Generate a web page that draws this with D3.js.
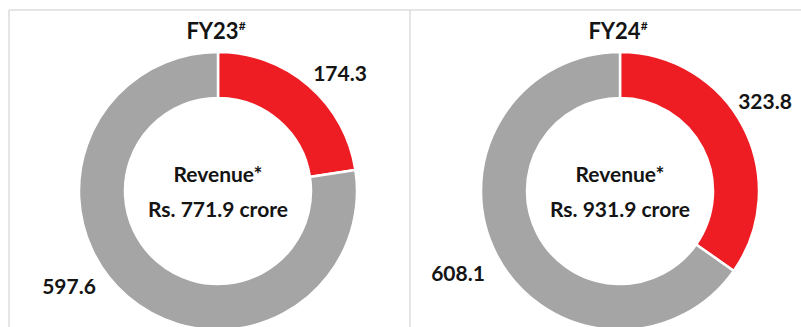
<!DOCTYPE html>
<html>
<head>
<meta charset="utf-8">
<script src="https://cdn.jsdelivr.net/npm/d3@7"></script>
<style>
  body { margin: 0; background: #fff; }
  svg { display: block; font-family: Lato, "Open Sans", sans-serif; font-weight: bold; }
</style>
</head>
<body>
<div class="content"></div>
<script>
const w = 801;
const h = 327;

// data (Rs. crore)
const years = ['FY23', 'FY24'];
const segments = ['red', 'grey'];
const redValues = [174.3, 323.8];
const greyValues = [597.6, 608.1];
const totals = ['771.9', '931.9'];

const colors = d3.scaleOrdinal()
	.domain(segments)
	.range(['#ee1d24', '#a5a5a5']);

const svg = d3.select('.content').append('svg')
	.attr('width', w)
	.attr('height', h);

// panel frame lines
const frame = svg.append('g')
	.attr('stroke', '#dcdcdc')
	.attr('stroke-width', 1.5);
frame.append('line').attr('x1', 9).attr('x2', w).attr('y1', 10).attr('y2', 10);
frame.append('line').attr('x1', 9).attr('x2', 9).attr('y1', 10).attr('y2', h);
frame.append('line').attr('x1', 410).attr('x2', 410).attr('y1', 10).attr('y2', h);

const panelX = d3.scaleOrdinal()
	.domain(years)
	.range([218, 620]);

const cy = 191;
const outerR = 139;
const innerR = 93;

const pie = d3.pie()
	.sort(null)
	.value((d) => d.value);

const arc = d3.arc()
	.innerRadius(innerR)
	.outerRadius(outerR);

// label placement per chart: [dx, dy] relative to centre
const labelPos = [
	{ red: [122, -119], grey: [-149, 94] },
	{ red: [145, -91], grey: [-162, 81] }
];

years.forEach((year, i) => {
	const data = [
		{ key: 'red', value: redValues[i] },
		{ key: 'grey', value: greyValues[i] }
	];

	const g = svg.append('g')
		.attr('transform', 'translate(' + panelX(year) + ',' + cy + ')');

	g.selectAll('path')
		.data(pie(data))
		.enter()
		.append('path')
		.attr('d', arc)
		.attr('fill', (d) => colors(d.data.key))
		.attr('stroke', '#fff')
		.attr('stroke-width', 2.5);

	g.selectAll('.val')
		.data(data)
		.enter()
		.append('text')
		.attr('class', 'val')
		.attr('x', (d) => labelPos[i][d.key][0])
		.attr('y', (d) => labelPos[i][d.key][1])
		.attr('text-anchor', 'middle')
		.attr('dominant-baseline', 'central')
		.attr('font-size', 21)
		.attr('fill', '#141414')
		.text((d) => d.value.toFixed(1));

	g.append('text')
		.attr('y', -18)
		.attr('text-anchor', 'middle')
		.attr('dominant-baseline', 'central')
		.attr('font-size', 21)
		.attr('fill', '#141414')
		.text('Revenue*');

	g.append('text')
		.attr('y', 17)
		.attr('text-anchor', 'middle')
		.attr('dominant-baseline', 'central')
		.attr('font-size', 21)
		.attr('fill', '#141414')
		.text('Rs. ' + totals[i] + ' crore');

	const title = svg.append('text')
		.attr('x', panelX(year) - 2)
		.attr('y', 39)
		.attr('text-anchor', 'middle')
		.attr('font-size', 22)
		.attr('fill', '#141414')
		.text(year);
	title.append('tspan')
		.attr('dy', -9)
		.attr('font-size', 12)
		.text('#');
});
</script>
</body>
</html>
